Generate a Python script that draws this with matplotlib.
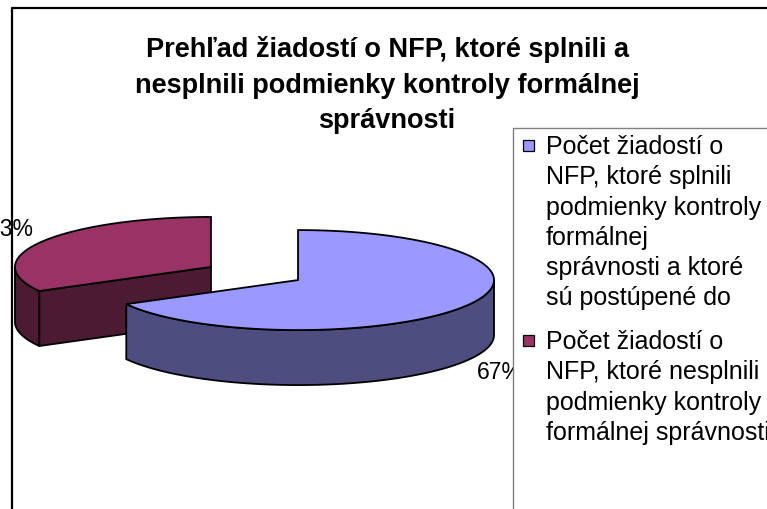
import numpy as np
import matplotlib
matplotlib.use("Agg")
import matplotlib.pyplot as plt
from matplotlib.patches import Polygon, Rectangle
from matplotlib.lines import Line2D

plt.rcParams['font.family'] = ['Liberation Sans', 'DejaVu Sans']

# ---- data ----
title = "Prehľad žiadostí o NFP, ktoré splnili a\nnesplnili podmienky kontroly formálnej\nsprávnosti"
categories = [
    "Počet žiadostí o\nNFP, ktoré splnili\npodmienky kontroly\nformálnej\nsprávnosti a ktoré\nsú postúpené do",
    "Počet žiadostí o\nNFP, ktoré nesplnili\npodmienky kontroly\nformálnej správnosti",
]
values = [67, 33]
pct_labels = ["67%", "33%"]

# ---- style ----
top_colors = ["#9999FF", "#993366"]
side_colors = ["#4D4D80", "#4D1A33"]

W, H = 767, 509
fig = plt.figure(figsize=(W / 100, H / 100), dpi=100)
ax = fig.add_axes([0, 0, 1, 1])
ax.set_xlim(0, W)
ax.set_ylim(H, 0)
ax.axis('off')

# chart area border (top and left edges visible; the rest is off-canvas)
ax.add_line(Line2D([11.5, 11.5, W + 5], [H + 5, 7.5, 7.5], color='black', lw=1.6, zorder=1))

# ---- 3D pie geometry (pixel space) ----
pcx, pcy = 254.5, 273.5      # pie center
a, b = 196.0, 50.0            # ellipse radii
depth = 55.0
explode = 0.258

fr = np.array(values, dtype=float) / np.sum(values)
starts = np.concatenate([[0.0], np.cumsum(fr)[:-1]]) * 360.0
ends = np.cumsum(fr) * 360.0


def rim(cx, cy, th):
    t = np.deg2rad(th)
    return cx + a * np.sin(t), cy - b * np.cos(t)


slices = []
for i in range(len(values)):
    m = (starts[i] + ends[i]) / 2.0
    tm = np.deg2rad(m)
    cx = pcx + explode * a * np.sin(tm)
    cy = pcy - explode * b * np.cos(tm)
    slices.append((cx, cy, starts[i], ends[i], m))

lw = 1.3
# draw back slice (purple) first, then front (blue)
order = [1, 0]
for i in order:
    cx, cy, s, e, m = slices[i]
    z = 3 + (0 if i == 1 else 10)
    # radial faces visible: the one whose outward normal faces front
    for ang, sign in ((s, -1), (e, +1)):
        nrm = ang + sign * 90.0
        if np.cos(np.deg2rad(nrm)) < -1e-6:
            px, py = rim(cx, cy, ang)
            poly = [(cx, cy), (px, py), (px, py + depth), (cx, cy + depth)]
            ax.add_patch(Polygon(poly, closed=True, facecolor=side_colors[i],
                                 edgecolor='black', lw=lw, zorder=z))
    # outer curved side (front half 90..270)
    lo, hi = max(s, 90.0), min(e, 270.0)
    if hi > lo:
        th = np.linspace(lo, hi, 200)
        xs, ys = rim(cx, cy, th)
        poly = list(zip(xs, ys)) + list(zip(xs[::-1], ys[::-1] + depth))
        ax.add_patch(Polygon(poly, closed=True, facecolor=side_colors[i],
                             edgecolor='black', lw=lw, zorder=z + 1))
    # top face
    th = np.linspace(s, e, 400)
    xs, ys = rim(cx, cy, th)
    poly = [(cx, cy)] + list(zip(xs, ys))
    ax.add_patch(Polygon(poly, closed=True, facecolor=top_colors[i],
                         edgecolor='black', lw=lw, zorder=z + 2))

# percentage labels
cx, cy, s, e, m = slices[0]
tm = np.deg2rad(m)
ax.text(cx + 1.06 * a * np.sin(tm), cy - 1.06 * b * np.cos(tm) + depth - 1, pct_labels[0],
        ha='left', va='top', fontsize=16.5, color='black', zorder=20)
cx, cy, s, e, m = slices[1]
tm = np.deg2rad(m)
ax.text(cx + 1.055 * a * np.sin(tm), cy - 1.2 * b * np.cos(tm), pct_labels[1],
        ha='right', va='baseline', fontsize=16.5, color='black', zorder=20)

# title
ax.text(387, 85, title, ha='center', va='center', multialignment='center',
        fontsize=19.5, fontweight='bold', linespacing=1.48, zorder=20)

# legend
ax.add_patch(Rectangle((513, 128), 400, 500, facecolor='white', edgecolor='none', zorder=30))
ax.add_line(Line2D([513, 513, W + 5], [H + 5, 128, 128], color='#808080', lw=1.0, zorder=30.5))
entry_y = [145, 340]
for i, lab in enumerate(categories):
    ax.add_patch(Rectangle((523, entry_y[i] - 5.5), 11, 11, facecolor=top_colors[i],
                           edgecolor='black', lw=0.9, zorder=31))
    ax.text(546, entry_y[i] - 10, lab, ha='left', va='top', fontsize=18,
            linespacing=1.33, zorder=31)

fig.savefig("out.png", dpi=100)
